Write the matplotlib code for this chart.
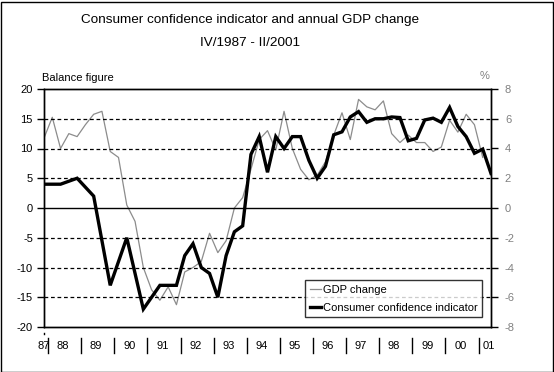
import numpy as np
import matplotlib
matplotlib.use("Agg")
import matplotlib.pyplot as plt
from matplotlib.patches import Rectangle

plt.rcParams["font.family"] = ["Liberation Sans", "DejaVu Sans"]

# quarterly series IV/1987 .. II/2001
confidence = [4, 4, 4, 4.5, 5, 3.5, 2, -5.5, -13, -9, -5, -11, -17, -15, -13, -13,
              -13, -8, -6, -10, -11, -15, -8, -4, -3, 9, 12, 6, 12, 10, 12, 12,
              8, 5, 7, 12.3, 12.8, 15.3, 16.2, 14.4, 15, 15, 15.3, 15.2, 11.3, 11.7,
              14.8, 15.1, 14.4, 16.9, 13.7, 12, 9.2, 9.9, 5.8]
gdp_change = [4.7, 6.1, 4.0, 5.0, 4.8, 5.6, 6.3, 6.5, 3.8, 3.4, 0.2, -0.9, -4.0, -5.5,
              -6.2, -5.3, -6.5, -4.3, -4.0, -3.6, -1.7, -3.0, -2.2, 0.0, 0.7, 2.6, 4.6,
              5.2, 3.9, 6.5, 4.0, 2.6, 1.9, 2.2, 3.1, 4.9, 6.4, 4.6, 7.3, 6.8, 6.6, 7.2,
              5.0, 4.4, 4.9, 4.4, 4.4, 3.8, 4.1, 5.9, 5.1, 6.3, 5.6, 3.4, np.nan]
year_labels = ["87", "88", "89", "90", "91", "92", "93", "94", "95", "96", "97",
               "98", "99", "00", "01"]

x = np.arange(len(confidence))

fig = plt.figure(figsize=(5.54, 3.72), dpi=100)
ax = fig.add_axes([44 / 554, 45 / 372, 447 / 554, 238 / 372])
ax2 = ax.twinx()

ax.set_xlim(0, len(x) - 1)
ax.set_ylim(-20, 20)
ax2.set_ylim(-8, 8)

for v in [-15, -10, -5, 5, 10, 15]:
    ax.axhline(v, color="black", lw=0.9, ls=(0, (3, 2.2)), zorder=1)
ax.axhline(0, color="black", lw=1.0, zorder=1)

ax2.plot(x, gdp_change, color="#8c8c8c", lw=0.9, zorder=2)
ax.set_zorder(ax2.get_zorder() + 1)
ax.patch.set_visible(False)
ax.plot(x, confidence, color="black", lw=2.4, zorder=3, solid_joinstyle="miter")

ax.set_yticks(np.arange(-20, 21, 5))
ax.set_yticklabels([str(v) for v in range(-20, 21, 5)], fontsize=8)
ax.tick_params(axis="y", direction="out", length=5, width=1, pad=3)
ax.set_xticks([])
ax2.set_yticks(np.arange(-8, 9, 2))
ax2.set_yticklabels([str(v) for v in range(-8, 9, 2)], fontsize=8, color="#808080")
ax2.tick_params(axis="y", direction="out", length=5, width=1, pad=5,
                colors="black", labelcolor="#808080")
for a in (ax, ax2):
    for s in a.spines.values():
        s.set_linewidth(1.0)
        s.set_color("black")

# year labels and separators below the axis
trans = ax.get_xaxis_transform()
for k in range(14):
    xb = 0.5 + 4 * k
    ax.plot([xb, xb], [-0.046, -0.109], color="black", lw=1.0, transform=trans, clip_on=False)
ax.plot([0, 0], [-0.026, -0.030], color="black", lw=1.0, transform=trans, clip_on=False)
label_x = [0.0] + [2.3 + 4 * k for k in range(13)] + [53.7]
for lx, lab in zip(label_x, year_labels):
    ax.text(lx, -0.079, lab, transform=trans, ha="center", va="center", fontsize=8)

# legend
ax.plot([], [], color="#8c8c8c", lw=0.9, label="GDP change")
ax.plot([], [], color="black", lw=2.4, label="Consumer confidence indicator")
h, l = ax.get_legend_handles_labels()
leg = ax.legend(h[-2:], l[-2:], loc="lower right",
                bbox_to_anchor=(481.7 / 554, (372 - 317.3) / 372),
                bbox_transform=fig.transFigure, fontsize=8, frameon=True, fancybox=False,
                handlelength=1.0, handletextpad=0.15, borderpad=0.4, labelspacing=0.75,
                borderaxespad=0)
leg.get_frame().set_edgecolor("black")
leg.get_frame().set_linewidth(1.0)

fig.text(250 / 554, 1 - 20 / 372, "Consumer confidence indicator and annual GDP change",
         ha="center", va="center", fontsize=9.7)
fig.text(250 / 554, 1 - 43 / 372, "IV/1987 - II/2001", ha="center", va="center", fontsize=9.7)
fig.text(42 / 554, 1 - 78 / 372, "Balance figure", ha="left", va="center", fontsize=8)
fig.text(485 / 554, 1 - 76 / 372, "%", ha="center", va="center", fontsize=8, color="#808080")

fig.patches.append(Rectangle((0.5 / 554, 0.5 / 372), 552 / 554, 370 / 372,
                             transform=fig.transFigure, fill=False, edgecolor="black", lw=1.0))

fig.savefig("out.png", dpi=100)
